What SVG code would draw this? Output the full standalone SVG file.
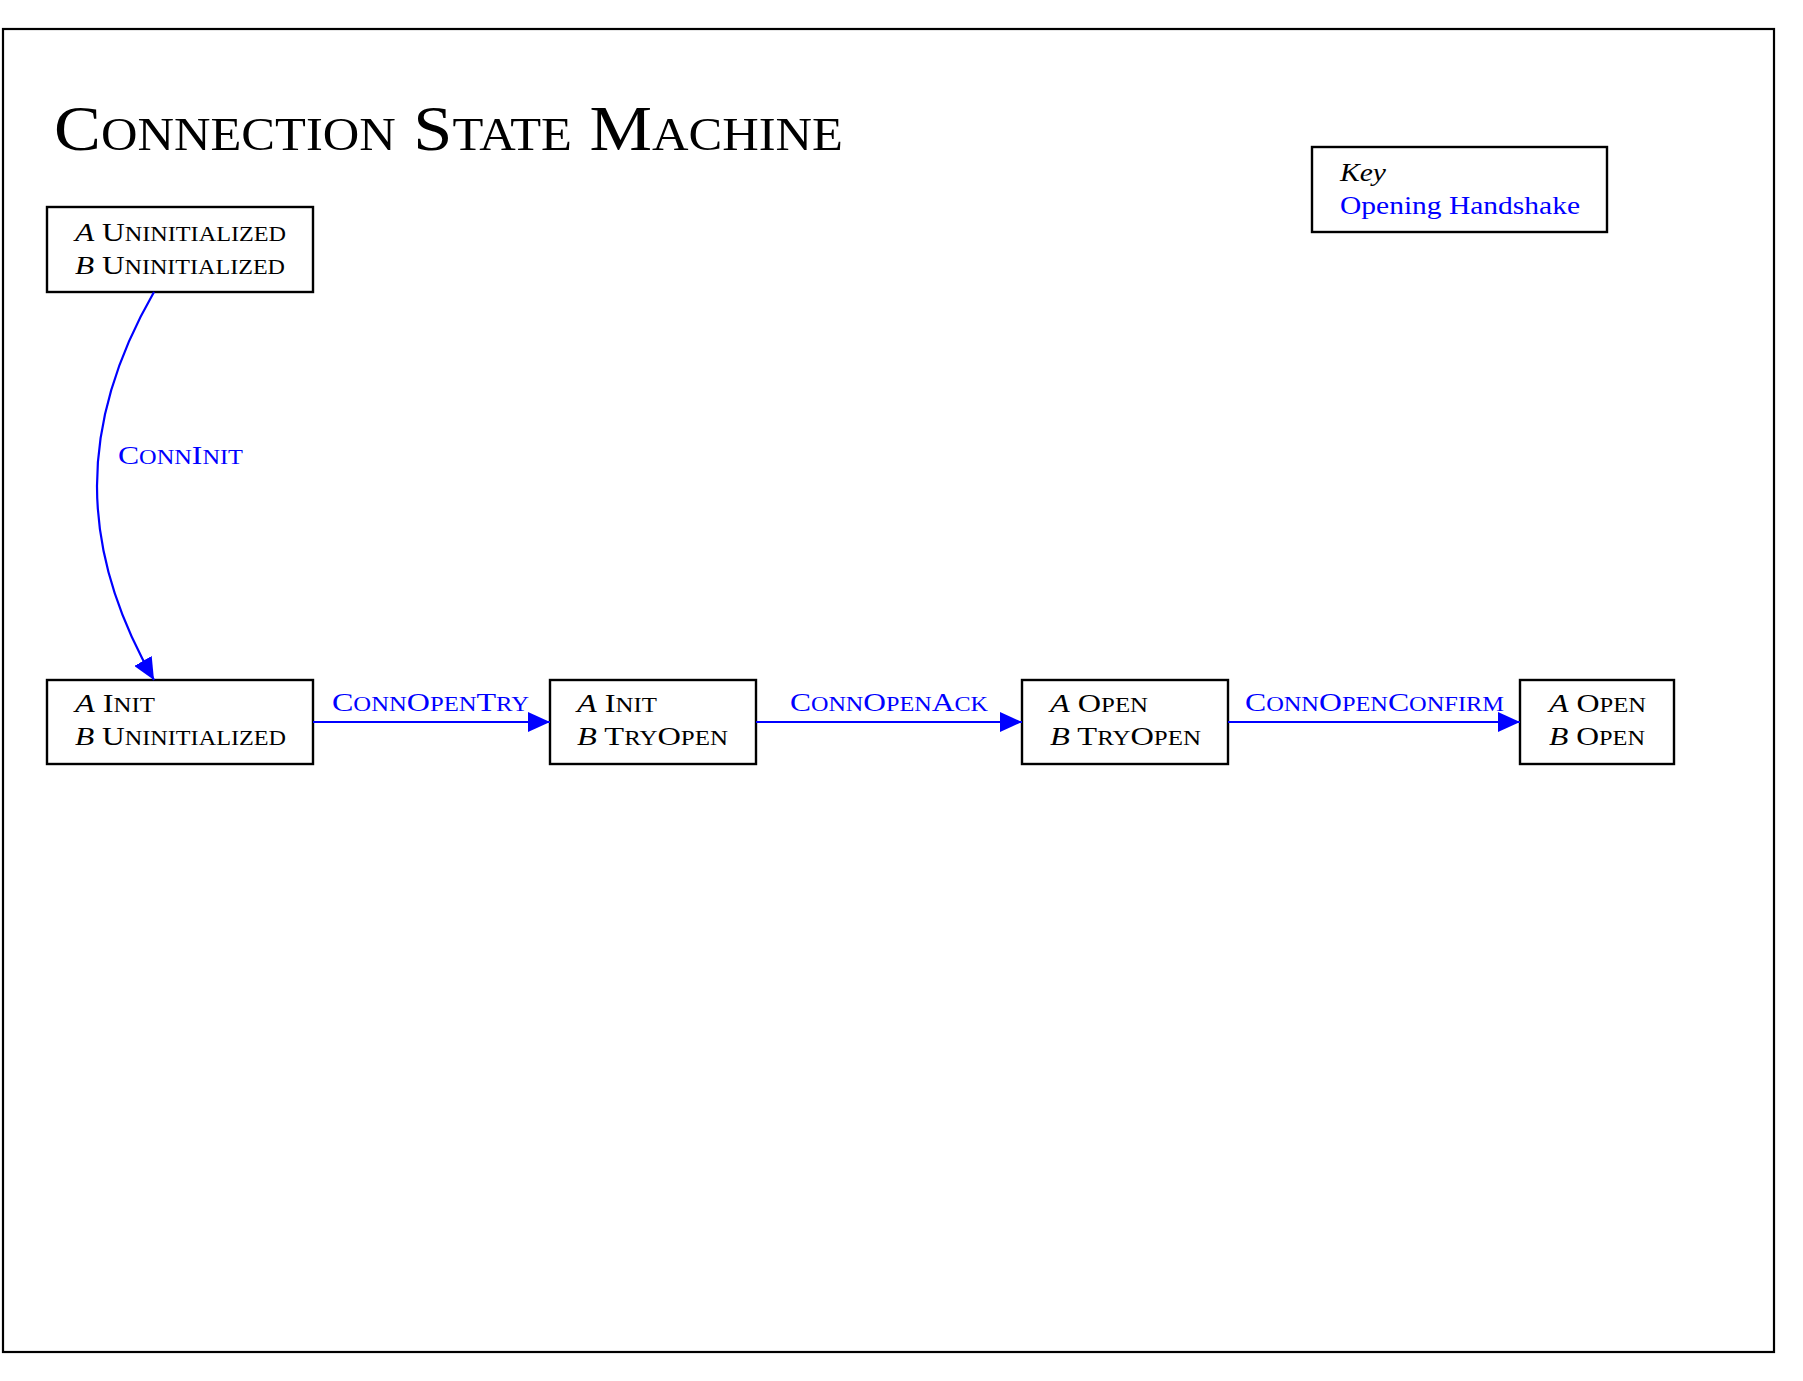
<svg xmlns="http://www.w3.org/2000/svg" width="1803" height="1381" viewBox="0 0 1803 1381">
<defs>
<style>
.frame{fill:none;stroke:#000;stroke-width:2.2}
.box{fill:#fff;stroke:#000;stroke-width:2.4}
.t{font-family:"Liberation Serif","DejaVu Serif",serif;font-size:26px;fill:#000}
.lbl{font-family:"Liberation Serif","DejaVu Serif",serif;font-size:26px;fill:#0000ff}
.sc{font-size:20px}
.it{font-style:italic}
.edge{fill:none;stroke:#0000ff;stroke-width:2.2}
.title{font-family:"Liberation Serif","DejaVu Serif",serif;font-size:64px;fill:#000}
.tsc{font-size:46px}
</style>
<marker id="ah" markerUnits="userSpaceOnUse" markerWidth="24" markerHeight="20" refX="22" refY="10" orient="auto">
<path d="M0,0 L22,10 L0,20 Z" fill="#0000ff"/>
</marker>
</defs>
<rect width="1803" height="1381" fill="#fff"/>
<rect class="frame" x="3" y="29" width="1771" height="1323"/>
<text id="title" class="title" x="54" y="150" textLength="789" lengthAdjust="spacingAndGlyphs">C<tspan class="tsc">ONNECTION</tspan> S<tspan class="tsc">TATE</tspan> M<tspan class="tsc">ACHINE</tspan></text>

<g id="key">
<rect class="box" x="1312" y="147" width="295" height="85"/>
<text class="t it" x="1340" y="181" textLength="46" lengthAdjust="spacingAndGlyphs">Key</text>
<text class="lbl" x="1340" y="214" textLength="240" lengthAdjust="spacingAndGlyphs">Opening Handshake</text>
</g>

<g id="n1">
<rect class="box" x="47" y="207" width="266" height="85"/>
<text class="t" x="75" y="241" textLength="211" lengthAdjust="spacingAndGlyphs"><tspan class="it">A</tspan> U<tspan class="sc">NINITIALIZED</tspan></text>
<text class="t" x="75" y="274" textLength="210" lengthAdjust="spacingAndGlyphs"><tspan class="it">B</tspan> U<tspan class="sc">NINITIALIZED</tspan></text>
</g>

<g id="n2">
<rect class="box" x="47" y="680" width="266" height="84"/>
<text class="t" x="75" y="712" textLength="80" lengthAdjust="spacingAndGlyphs"><tspan class="it">A</tspan> I<tspan class="sc">NIT</tspan></text>
<text class="t" x="75" y="745" textLength="211" lengthAdjust="spacingAndGlyphs"><tspan class="it">B</tspan> U<tspan class="sc">NINITIALIZED</tspan></text>
</g>

<g id="n3">
<rect class="box" x="550" y="680" width="206" height="84"/>
<text class="t" x="577" y="712" textLength="80" lengthAdjust="spacingAndGlyphs"><tspan class="it">A</tspan> I<tspan class="sc">NIT</tspan></text>
<text class="t" x="577" y="745" textLength="151" lengthAdjust="spacingAndGlyphs"><tspan class="it">B</tspan> T<tspan class="sc">RY</tspan>O<tspan class="sc">PEN</tspan></text>
</g>

<g id="n4">
<rect class="box" x="1022" y="680" width="206" height="84"/>
<text class="t" x="1050" y="712" textLength="98" lengthAdjust="spacingAndGlyphs"><tspan class="it">A</tspan> O<tspan class="sc">PEN</tspan></text>
<text class="t" x="1050" y="745" textLength="151" lengthAdjust="spacingAndGlyphs"><tspan class="it">B</tspan> T<tspan class="sc">RY</tspan>O<tspan class="sc">PEN</tspan></text>
</g>

<g id="n5">
<rect class="box" x="1520" y="680" width="154" height="84"/>
<text class="t" x="1549" y="712" textLength="97" lengthAdjust="spacingAndGlyphs"><tspan class="it">A</tspan> O<tspan class="sc">PEN</tspan></text>
<text class="t" x="1549" y="745" textLength="96" lengthAdjust="spacingAndGlyphs"><tspan class="it">B</tspan> O<tspan class="sc">PEN</tspan></text>
</g>

<g id="connectors">
<path class="edge" d="M154,292 C78,424 78,548 154,680" marker-end="url(#ah)"/>
<text class="lbl" x="118" y="464" textLength="125" lengthAdjust="spacingAndGlyphs">C<tspan class="sc">ONN</tspan>I<tspan class="sc">NIT</tspan></text>
<path class="edge" d="M313,722 L550,722" marker-end="url(#ah)"/>
<text class="lbl" x="332" y="711" textLength="197" lengthAdjust="spacingAndGlyphs">C<tspan class="sc">ONN</tspan>O<tspan class="sc">PEN</tspan>T<tspan class="sc">RY</tspan></text>
<path class="edge" d="M756,722 L1022,722" marker-end="url(#ah)"/>
<text class="lbl" x="790" y="711" textLength="198" lengthAdjust="spacingAndGlyphs">C<tspan class="sc">ONN</tspan>O<tspan class="sc">PEN</tspan>A<tspan class="sc">CK</tspan></text>
<path class="edge" d="M1228,722 L1520,722" marker-end="url(#ah)"/>
<text class="lbl" x="1245" y="711" textLength="259" lengthAdjust="spacingAndGlyphs">C<tspan class="sc">ONN</tspan>O<tspan class="sc">PEN</tspan>C<tspan class="sc">ONFIRM</tspan></text>
</g>
</svg>
